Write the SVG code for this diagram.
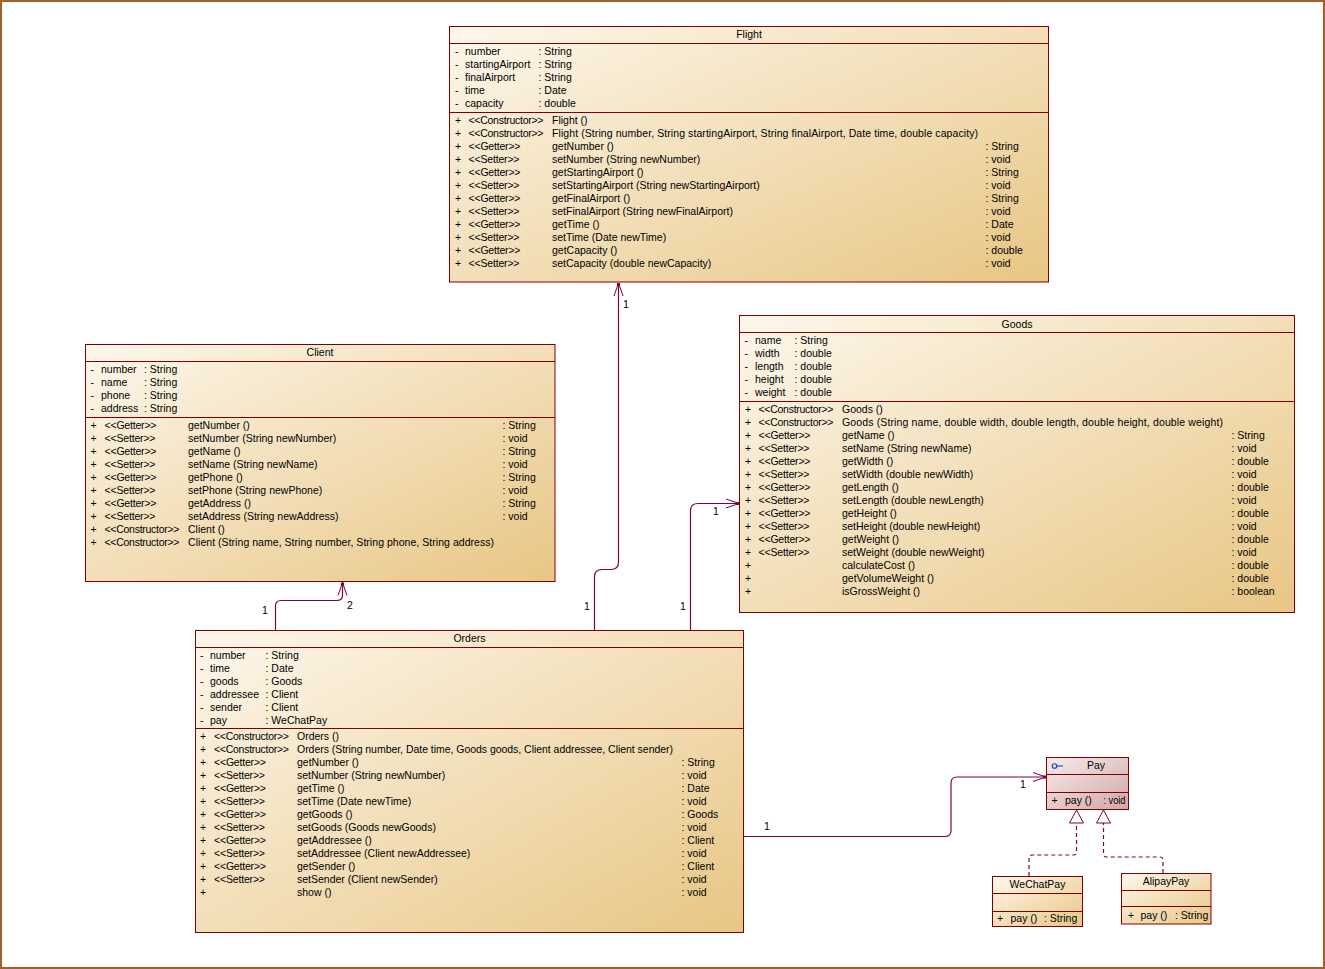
<svg xmlns="http://www.w3.org/2000/svg" width="1325" height="969" viewBox="0 0 1325 969">
<defs>
<linearGradient id="g" x1="0" y1="0" x2="1" y2="1">
<stop offset="0" stop-color="#fdf7ec"/>
<stop offset="1" stop-color="#e8c684"/>
</linearGradient>
<linearGradient id="gp" x1="0" y1="0" x2="1" y2="1">
<stop offset="0" stop-color="#f6ecec"/>
<stop offset="1" stop-color="#d3a6a6"/>
</linearGradient>
<marker id="nav" viewBox="-15 -6 17 12" refX="0" refY="0" markerWidth="17" markerHeight="12" markerUnits="userSpaceOnUse" orient="auto">
<path d="M-13,-4.5 L0,0 L-13,4.5" fill="none" stroke="#800040" stroke-width="1"/>
<rect x="-3" y="-1.5" width="3" height="3" fill="#800040"/>
</marker>
<marker id="tri" viewBox="-15 -8 17 16" refX="0" refY="0" markerWidth="17" markerHeight="16" markerUnits="userSpaceOnUse" orient="auto">
<path d="M-13,-7 L0,0 L-13,7 Z" fill="#ffffff" stroke="#800040" stroke-width="1"/>
</marker>
</defs>
<style>
text{font-family:"Liberation Sans",Arial,sans-serif;font-size:10.5px;fill:#000}
.c{text-anchor:middle}
.box{fill:url(#g);stroke:#800000;stroke-width:1}
.pbox{fill:url(#gp);stroke:#800000;stroke-width:1}
.sep{stroke:#800000;stroke-width:1}
.conn{fill:none;stroke:#800040;stroke-width:1.2}
.dash{fill:none;stroke:#800040;stroke-width:1.2;stroke-dasharray:4,3}
</style>
<rect x="1" y="1" width="1323" height="967" fill="#ffffff" stroke="#a65f27" stroke-width="2"/>

<g id="connectors">
<path class="conn" d="M594.5,631 V577 Q594.5,569.5 602,569.5 H611 Q618.5,569.5 618.5,562 V283" marker-end="url(#nav)"/>
<text x="584" y="610">1</text>
<text x="623" y="308">1</text>
<path class="conn" d="M690.5,631 V511 Q690.5,503.5 698,503.5 H739" marker-end="url(#nav)"/>
<text x="680" y="610">1</text>
<text x="713" y="515">1</text>
<path class="conn" d="M275.5,631 V606 Q275.5,600.5 281,600.5 H337 Q342.5,600.5 342.5,595 V582.5" marker-end="url(#nav)"/>
<text x="262" y="614">1</text>
<text x="347" y="609">2</text>
<path class="conn" d="M743.5,836.5 H945 Q951,836.5 951,830.5 V783 Q951,777 957,777 H1046" marker-end="url(#nav)"/>
<text x="764" y="830">1</text>
<text x="1020" y="788">1</text>
<path class="dash" d="M1029,876 V858 Q1029,855 1032,855 H1073.5 Q1076.5,855 1076.5,852 V810" marker-end="url(#tri)"/>
<path class="dash" d="M1163,873 V860 Q1163,857 1160,857 H1106.5 Q1103.5,857 1103.5,854 V810" marker-end="url(#tri)"/>
</g>

<g id="flight">
<rect class="box" x="449.5" y="26.5" width="599" height="255.5"/>
<line class="sep" x1="449.5" y1="43.5" x2="1048.5" y2="43.5"/>
<line class="sep" x1="449.5" y1="112.5" x2="1048.5" y2="112.5"/>
<text class="c" x="749" y="38">Flight</text>
<text x="455" y="55">-</text><text x="465" y="55">number</text><text x="538.5" y="55">: String</text>
<text x="455" y="68">-</text><text x="465" y="68">startingAirport</text><text x="538.5" y="68">: String</text>
<text x="455" y="81">-</text><text x="465" y="81">finalAirport</text><text x="538.5" y="81">: String</text>
<text x="455" y="94">-</text><text x="465" y="94">time</text><text x="538.5" y="94">: Date</text>
<text x="455" y="107">-</text><text x="465" y="107">capacity</text><text x="538.5" y="107">: double</text>
<text x="455" y="124">+</text><text x="468.5" y="124" textLength="75">&lt;&lt;Constructor&gt;&gt;</text><text x="552" y="124">Flight ()</text>
<text x="455" y="137">+</text><text x="468.5" y="137" textLength="75">&lt;&lt;Constructor&gt;&gt;</text><text x="552" y="137" textLength="426">Flight (String number, String startingAirport, String finalAirport, Date time, double capacity)</text>
<text x="455" y="150">+</text><text x="468.5" y="150" textLength="52">&lt;&lt;Getter&gt;&gt;</text><text x="552" y="150">getNumber ()</text><text x="985.5" y="150">: String</text>
<text x="455" y="163">+</text><text x="468.5" y="163" textLength="51">&lt;&lt;Setter&gt;&gt;</text><text x="552" y="163">setNumber (String newNumber)</text><text x="985.5" y="163">: void</text>
<text x="455" y="176">+</text><text x="468.5" y="176" textLength="52">&lt;&lt;Getter&gt;&gt;</text><text x="552" y="176">getStartingAirport ()</text><text x="985.5" y="176">: String</text>
<text x="455" y="189">+</text><text x="468.5" y="189" textLength="51">&lt;&lt;Setter&gt;&gt;</text><text x="552" y="189">setStartingAirport (String newStartingAirport)</text><text x="985.5" y="189">: void</text>
<text x="455" y="202">+</text><text x="468.5" y="202" textLength="52">&lt;&lt;Getter&gt;&gt;</text><text x="552" y="202">getFinalAirport ()</text><text x="985.5" y="202">: String</text>
<text x="455" y="215">+</text><text x="468.5" y="215" textLength="51">&lt;&lt;Setter&gt;&gt;</text><text x="552" y="215">setFinalAirport (String newFinalAirport)</text><text x="985.5" y="215">: void</text>
<text x="455" y="228">+</text><text x="468.5" y="228" textLength="52">&lt;&lt;Getter&gt;&gt;</text><text x="552" y="228">getTime ()</text><text x="985.5" y="228">: Date</text>
<text x="455" y="241">+</text><text x="468.5" y="241" textLength="51">&lt;&lt;Setter&gt;&gt;</text><text x="552" y="241">setTime (Date newTime)</text><text x="985.5" y="241">: void</text>
<text x="455" y="254">+</text><text x="468.5" y="254" textLength="52">&lt;&lt;Getter&gt;&gt;</text><text x="552" y="254">getCapacity ()</text><text x="985.5" y="254">: double</text>
<text x="455" y="267">+</text><text x="468.5" y="267" textLength="51">&lt;&lt;Setter&gt;&gt;</text><text x="552" y="267">setCapacity (double newCapacity)</text><text x="985.5" y="267">: void</text>
</g>

<g id="client">
<rect class="box" x="85.5" y="344.5" width="469.5" height="237"/>
<line class="sep" x1="85.5" y1="361.5" x2="555" y2="361.5"/>
<line class="sep" x1="85.5" y1="417.5" x2="555" y2="417.5"/>
<text class="c" x="320" y="356">Client</text>
<text x="90.5" y="373">-</text><text x="101" y="373">number</text><text x="144" y="373">: String</text>
<text x="90.5" y="386">-</text><text x="101" y="386">name</text><text x="144" y="386">: String</text>
<text x="90.5" y="399">-</text><text x="101" y="399">phone</text><text x="144" y="399">: String</text>
<text x="90.5" y="412">-</text><text x="101" y="412">address</text><text x="144" y="412">: String</text>
<text x="90.5" y="429">+</text><text x="104.5" y="429" textLength="52">&lt;&lt;Getter&gt;&gt;</text><text x="188" y="429">getNumber ()</text><text x="502.5" y="429">: String</text>
<text x="90.5" y="442">+</text><text x="104.5" y="442" textLength="51">&lt;&lt;Setter&gt;&gt;</text><text x="188" y="442">setNumber (String newNumber)</text><text x="502.5" y="442">: void</text>
<text x="90.5" y="455">+</text><text x="104.5" y="455" textLength="52">&lt;&lt;Getter&gt;&gt;</text><text x="188" y="455">getName ()</text><text x="502.5" y="455">: String</text>
<text x="90.5" y="468">+</text><text x="104.5" y="468" textLength="51">&lt;&lt;Setter&gt;&gt;</text><text x="188" y="468">setName (String newName)</text><text x="502.5" y="468">: void</text>
<text x="90.5" y="481">+</text><text x="104.5" y="481" textLength="52">&lt;&lt;Getter&gt;&gt;</text><text x="188" y="481">getPhone ()</text><text x="502.5" y="481">: String</text>
<text x="90.5" y="494">+</text><text x="104.5" y="494" textLength="51">&lt;&lt;Setter&gt;&gt;</text><text x="188" y="494">setPhone (String newPhone)</text><text x="502.5" y="494">: void</text>
<text x="90.5" y="507">+</text><text x="104.5" y="507" textLength="52">&lt;&lt;Getter&gt;&gt;</text><text x="188" y="507">getAddress ()</text><text x="502.5" y="507">: String</text>
<text x="90.5" y="520">+</text><text x="104.5" y="520" textLength="51">&lt;&lt;Setter&gt;&gt;</text><text x="188" y="520">setAddress (String newAddress)</text><text x="502.5" y="520">: void</text>
<text x="90.5" y="533">+</text><text x="104.5" y="533" textLength="75">&lt;&lt;Constructor&gt;&gt;</text><text x="188" y="533">Client ()</text>
<text x="90.5" y="546">+</text><text x="104.5" y="546" textLength="75">&lt;&lt;Constructor&gt;&gt;</text><text x="188" y="546" textLength="306">Client (String name, String number, String phone, String address)</text>
</g>

<g id="goods">
<rect class="box" x="739.5" y="315.5" width="555" height="297"/>
<line class="sep" x1="739.5" y1="332.5" x2="1294.5" y2="332.5"/>
<line class="sep" x1="739.5" y1="401.5" x2="1294.5" y2="401.5"/>
<text class="c" x="1017" y="328">Goods</text>
<text x="744.5" y="344">-</text><text x="755" y="344">name</text><text x="794.5" y="344">: String</text>
<text x="744.5" y="357">-</text><text x="755" y="357">width</text><text x="794.5" y="357">: double</text>
<text x="744.5" y="370">-</text><text x="755" y="370">length</text><text x="794.5" y="370">: double</text>
<text x="744.5" y="383">-</text><text x="755" y="383">height</text><text x="794.5" y="383">: double</text>
<text x="744.5" y="396">-</text><text x="755" y="396">weight</text><text x="794.5" y="396">: double</text>
<text x="745" y="413">+</text><text x="758.5" y="413" textLength="75">&lt;&lt;Constructor&gt;&gt;</text><text x="842" y="413">Goods ()</text>
<text x="745" y="426">+</text><text x="758.5" y="426" textLength="75">&lt;&lt;Constructor&gt;&gt;</text><text x="842" y="426" textLength="381">Goods (String name, double width, double length, double height, double weight)</text>
<text x="745" y="439">+</text><text x="758.5" y="439" textLength="52">&lt;&lt;Getter&gt;&gt;</text><text x="842" y="439">getName ()</text><text x="1231.5" y="439">: String</text>
<text x="745" y="452">+</text><text x="758.5" y="452" textLength="51">&lt;&lt;Setter&gt;&gt;</text><text x="842" y="452">setName (String newName)</text><text x="1231.5" y="452">: void</text>
<text x="745" y="465">+</text><text x="758.5" y="465" textLength="52">&lt;&lt;Getter&gt;&gt;</text><text x="842" y="465">getWidth ()</text><text x="1231.5" y="465">: double</text>
<text x="745" y="478">+</text><text x="758.5" y="478" textLength="51">&lt;&lt;Setter&gt;&gt;</text><text x="842" y="478">setWidth (double newWidth)</text><text x="1231.5" y="478">: void</text>
<text x="745" y="491">+</text><text x="758.5" y="491" textLength="52">&lt;&lt;Getter&gt;&gt;</text><text x="842" y="491">getLength ()</text><text x="1231.5" y="491">: double</text>
<text x="745" y="504">+</text><text x="758.5" y="504" textLength="51">&lt;&lt;Setter&gt;&gt;</text><text x="842" y="504">setLength (double newLength)</text><text x="1231.5" y="504">: void</text>
<text x="745" y="517">+</text><text x="758.5" y="517" textLength="52">&lt;&lt;Getter&gt;&gt;</text><text x="842" y="517">getHeight ()</text><text x="1231.5" y="517">: double</text>
<text x="745" y="530">+</text><text x="758.5" y="530" textLength="51">&lt;&lt;Setter&gt;&gt;</text><text x="842" y="530">setHeight (double newHeight)</text><text x="1231.5" y="530">: void</text>
<text x="745" y="543">+</text><text x="758.5" y="543" textLength="52">&lt;&lt;Getter&gt;&gt;</text><text x="842" y="543">getWeight ()</text><text x="1231.5" y="543">: double</text>
<text x="745" y="556">+</text><text x="758.5" y="556" textLength="51">&lt;&lt;Setter&gt;&gt;</text><text x="842" y="556">setWeight (double newWeight)</text><text x="1231.5" y="556">: void</text>
<text x="745" y="569">+</text><text x="842" y="569">calculateCost ()</text><text x="1231.5" y="569">: double</text>
<text x="745" y="582">+</text><text x="842" y="582">getVolumeWeight ()</text><text x="1231.5" y="582">: double</text>
<text x="745" y="595">+</text><text x="842" y="595">isGrossWeight ()</text><text x="1231.5" y="595">: boolean</text>
</g>

<g id="orders">
<rect class="box" x="195.5" y="630.5" width="548" height="302"/>
<line class="sep" x1="195.5" y1="647.5" x2="743.5" y2="647.5"/>
<line class="sep" x1="195.5" y1="728.5" x2="743.5" y2="728.5"/>
<text class="c" x="469.5" y="642">Orders</text>
<text x="200" y="659">-</text><text x="210" y="659">number</text><text x="265.5" y="659">: String</text>
<text x="200" y="672">-</text><text x="210" y="672">time</text><text x="265.5" y="672">: Date</text>
<text x="200" y="685">-</text><text x="210" y="685">goods</text><text x="265.5" y="685">: Goods</text>
<text x="200" y="698">-</text><text x="210" y="698">addressee</text><text x="265.5" y="698">: Client</text>
<text x="200" y="711">-</text><text x="210" y="711">sender</text><text x="265.5" y="711">: Client</text>
<text x="200" y="724">-</text><text x="210" y="724">pay</text><text x="265.5" y="724">: WeChatPay</text>
<text x="200" y="740">+</text><text x="214" y="740" textLength="75">&lt;&lt;Constructor&gt;&gt;</text><text x="297" y="740">Orders ()</text>
<text x="200" y="753">+</text><text x="214" y="753" textLength="75">&lt;&lt;Constructor&gt;&gt;</text><text x="297" y="753" textLength="376">Orders (String number, Date time, Goods goods, Client addressee, Client sender)</text>
<text x="200" y="766">+</text><text x="214" y="766" textLength="52">&lt;&lt;Getter&gt;&gt;</text><text x="297" y="766">getNumber ()</text><text x="681.5" y="766">: String</text>
<text x="200" y="779">+</text><text x="214" y="779" textLength="51">&lt;&lt;Setter&gt;&gt;</text><text x="297" y="779">setNumber (String newNumber)</text><text x="681.5" y="779">: void</text>
<text x="200" y="792">+</text><text x="214" y="792" textLength="52">&lt;&lt;Getter&gt;&gt;</text><text x="297" y="792">getTime ()</text><text x="681.5" y="792">: Date</text>
<text x="200" y="805">+</text><text x="214" y="805" textLength="51">&lt;&lt;Setter&gt;&gt;</text><text x="297" y="805">setTime (Date newTime)</text><text x="681.5" y="805">: void</text>
<text x="200" y="818">+</text><text x="214" y="818" textLength="52">&lt;&lt;Getter&gt;&gt;</text><text x="297" y="818">getGoods ()</text><text x="681.5" y="818">: Goods</text>
<text x="200" y="831">+</text><text x="214" y="831" textLength="51">&lt;&lt;Setter&gt;&gt;</text><text x="297" y="831">setGoods (Goods newGoods)</text><text x="681.5" y="831">: void</text>
<text x="200" y="844">+</text><text x="214" y="844" textLength="52">&lt;&lt;Getter&gt;&gt;</text><text x="297" y="844">getAddressee ()</text><text x="681.5" y="844">: Client</text>
<text x="200" y="857">+</text><text x="214" y="857" textLength="51">&lt;&lt;Setter&gt;&gt;</text><text x="297" y="857">setAddressee (Client newAddressee)</text><text x="681.5" y="857">: void</text>
<text x="200" y="870">+</text><text x="214" y="870" textLength="52">&lt;&lt;Getter&gt;&gt;</text><text x="297" y="870">getSender ()</text><text x="681.5" y="870">: Client</text>
<text x="200" y="883">+</text><text x="214" y="883" textLength="51">&lt;&lt;Setter&gt;&gt;</text><text x="297" y="883">setSender (Client newSender)</text><text x="681.5" y="883">: void</text>
<text x="200" y="896">+</text><text x="297" y="896">show ()</text><text x="681.5" y="896">: void</text>
</g>

<g id="pay">
<rect class="pbox" x="1046.5" y="757.5" width="82" height="52"/>
<line class="sep" x1="1046.5" y1="774.5" x2="1128.5" y2="774.5"/>
<line class="sep" x1="1046.5" y1="792.5" x2="1128.5" y2="792.5"/>
<circle cx="1054.5" cy="766" r="2.3" fill="none" stroke="#1f3fd0" stroke-width="1.1"/>
<line x1="1057" y1="766" x2="1063" y2="766" stroke="#1f3fd0" stroke-width="1.1"/>
<text class="c" x="1096" y="769">Pay</text>
<text x="1051.5" y="804">+</text><text x="1065" y="804">pay ()</text><text x="1103.5" y="804" textLength="22" lengthAdjust="spacingAndGlyphs">: void</text>
</g>

<g id="wechatpay">
<rect class="box" x="992.5" y="876.5" width="90" height="50"/>
<line class="sep" x1="992.5" y1="893.5" x2="1082.5" y2="893.5"/>
<line class="sep" x1="992.5" y1="911.5" x2="1082.5" y2="911.5"/>
<text class="c" x="1037.5" y="888">WeChatPay</text>
<text x="997" y="922">+</text><text x="1010.5" y="922">pay ()</text><text x="1044" y="922">: String</text>
</g>

<g id="alipaypay">
<rect class="box" x="1121.5" y="873.5" width="89.5" height="50.5"/>
<line class="sep" x1="1121.5" y1="890.5" x2="1211" y2="890.5"/>
<line class="sep" x1="1121.5" y1="906.5" x2="1211" y2="906.5"/>
<text class="c" x="1166" y="885">AlipayPay</text>
<text x="1128" y="919">+</text><text x="1140.5" y="919">pay ()</text><text x="1175" y="919">: String</text>
</g>
</svg>
